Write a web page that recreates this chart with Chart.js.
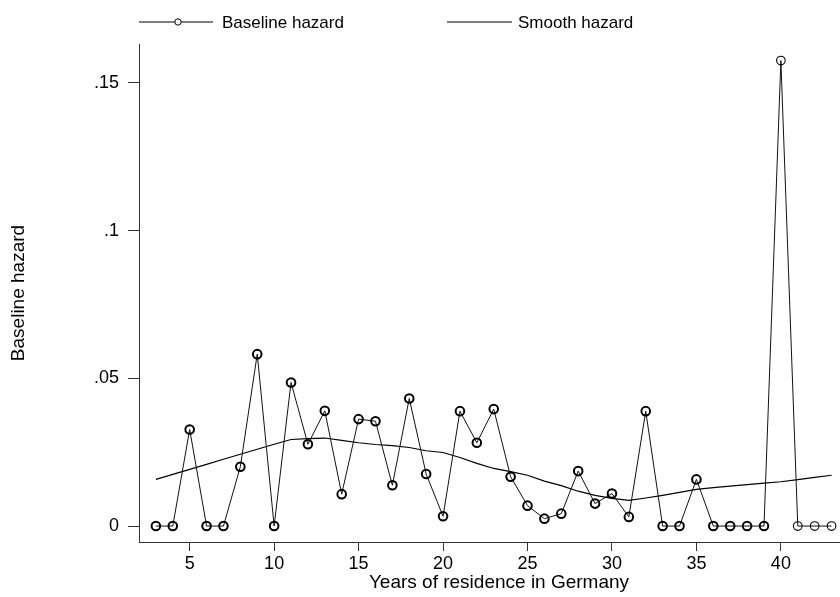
<!DOCTYPE html>
<html>
<head>
<meta charset="utf-8">
<script src="https://cdn.jsdelivr.net/npm/chart.js@4.4.1/dist/chart.umd.min.js"></script>
<style>
  html, body { margin: 0; padding: 0; background: #fff; overflow: hidden; }
  #hazardChart { display: block; }
</style>
</head>
<body>
<canvas id="hazardChart" width="840" height="597"></canvas>
<script>
/////////// DATA ///////////
var years = [3, 4, 5, 6, 7, 8, 9, 10, 11, 12, 13, 14, 15, 16, 17, 18, 19, 20, 21, 22, 23,
             24, 25, 26, 27, 28, 29, 30, 31, 32, 33, 34, 35, 36, 37, 38, 39, 40, 41, 42, 43];

var baselineHazard = [0, 0, .0327, 0, 0, .0201, .0582, 0, .0486, .0277, .0390, .0108, .0362, .0355,
                      .0138, .0432, .0176, .0033, .0389, .0282, .0396, .0167, .0069, .0025, .0042,
                      .0186, .0076, .0110, .0031, .0389, 0, 0, .0158, 0, 0, 0, 0, .1576, 0, 0, 0];

var smoothHazard = [.0158, .0175, .0192, .0209, .0226, .0243, .0260, .0277, .0293, .0296, .0298,
                    .0290, .0282, .0276, .0272, .0266, .0255, .0249, .0232, .0212, .0195, .0184,
                    .0172, .0152, .0137, .0118, .0104, .0094, .0087, .0095, .0104, .0114, .0124,
                    .0130, .0135, .0140, .0145, .0150, .0157, .0165, .0172];

var xTicks = [5, 10, 15, 20, 25, 30, 35, 40];
var yTicks = [0, .05, .1, .15];
var yTickLabels = ["0", ".05", ".1", ".15"];

var seriesNames = ["Baseline hazard", "Smooth hazard"];
var xTitle = "Years of residence in Germany";
var yTitle = "Baseline hazard";

function toPoints(xs, ys) {
    return xs.map((x, i) => ({ x: x, y: ys[i] }));
}

var FONT = "'Liberation Sans', Arial, sans-serif";

///////// LEGEND + X TITLE (drawn by hand) //////////
var extraText = {
    id: 'extraText',
    afterDraw(chart) {
        var ctx = chart.ctx;
        var y = 22;
        ctx.save();
        ctx.strokeStyle = '#000';
        ctx.lineWidth = 1;
        // baseline: line with hollow circle
        ctx.beginPath();
        ctx.moveTo(139, y); ctx.lineTo(213, y);
        ctx.stroke();
        ctx.fillStyle = '#fff';
        ctx.beginPath();
        ctx.arc(178, y, 3.2, 0, Math.PI * 2);
        ctx.fill(); ctx.stroke();
        // smooth: plain line
        ctx.beginPath();
        ctx.moveTo(447, y); ctx.lineTo(512, y);
        ctx.stroke();
        ctx.fillStyle = '#000';
        ctx.font = '17px ' + FONT;
        ctx.textBaseline = 'middle';
        ctx.fillText(seriesNames[0], 222, y + 1);
        ctx.fillText(seriesNames[1], 518, y + 1);
        // x axis title sits a bit right of the axis centre
        ctx.font = '19px ' + FONT;
        ctx.textAlign = 'center';
        ctx.fillText(xTitle, 499, 583);
        ctx.restore();
    }
};

/////////// LINE CHART ///////////
var ctxL = document.getElementById("hazardChart").getContext('2d');
var configL = {
    type: 'line',
    data: {
        datasets: [{
            label: seriesNames[0],
            data: toPoints(years, baselineHazard),
            borderColor: '#111',
            borderWidth: 1,
            pointStyle: 'circle',
            pointRadius: 4.3,
            pointBorderWidth: ctx => (ctx.raw && ctx.raw.x >= 40 ? 1.1 : 2),
            pointBorderColor: '#000',
            pointBackgroundColor: 'rgba(255,255,255,0)',
            tension: 0
        },
        {
            label: seriesNames[1],
            data: toPoints(years, smoothHazard),
            borderColor: '#000',
            borderWidth: 1.2,
            pointRadius: 0,
            tension: 0
        }]
    },
    options: {
        responsive: false,
        animation: false,
        layout: { autoPadding: false, padding: { top: 44, right: 0, bottom: 0, left: 0 } },
        plugins: {
            legend: { display: false },
            tooltip: { enabled: false }
        },
        scales: {
            x: {
                type: 'linear',
                min: 2,
                max: 43.5,
                afterBuildTicks: scale => { scale.ticks = xTicks.map(v => ({ value: v })); },
                afterFit: scale => {
                    scale.height = 55;
                    scale.paddingLeft = 0;
                    scale.paddingRight = 0;
                },
                grid: { drawOnChartArea: false, drawTicks: true, tickLength: 9, color: '#333' },
                border: { display: true, color: '#333', width: 1 },
                ticks: { color: '#000', font: { family: FONT, size: 18 }, padding: 2, maxRotation: 0 },
                title: { display: false }
            },
            y: {
                min: -0.0054,
                max: 0.1632,
                afterBuildTicks: scale => { scale.ticks = yTicks.map(v => ({ value: v })); },
                afterFit: scale => { scale.width = 139; },
                grid: { drawOnChartArea: false, drawTicks: true, tickLength: 11, color: '#333' },
                border: { display: true, color: '#333', width: 1 },
                ticks: {
                    color: '#000',
                    font: { family: FONT, size: 18 },
                    padding: 9,
                    callback: (value) => {
                        var i = yTicks.indexOf(value);
                        return i >= 0 ? yTickLabels[i] : '';
                    }
                },
                title: { display: true, text: yTitle, color: '#000',
                         font: { family: FONT, size: 19 }, padding: { top: 7, bottom: 0 } }
            }
        }
    },
    plugins: [extraText]
};
var hazardChart = new Chart(ctxL, configL);
</script>
</body>
</html>
